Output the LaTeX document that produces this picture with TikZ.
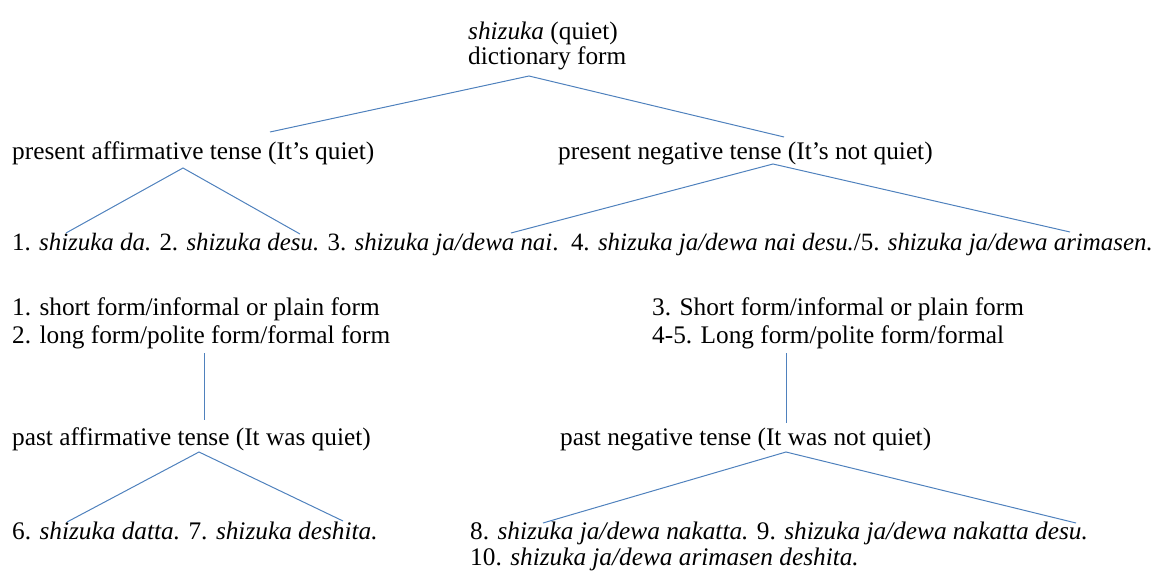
\documentclass[tikz,border=0pt]{standalone}
\usepackage{fontspec}
\setmainfont{Liberation Serif}
\definecolor{linkblue}{RGB}{79,129,189}
\begin{document}
\begin{tikzpicture}[x=1pt,y=-1pt,
  lbl/.style={anchor=base west, inner sep=0pt, font=\fontsize{25.3}{26}\selectfont},
  rowlbl/.style={lbl, font=\fontsize{24.9}{26}\selectfont},
  conn/.style={draw=linkblue, line width=1pt}]
\useasboundingbox (0,0) rectangle (1160,575);
% text
\node[lbl] (rootA) at (468,40) {\textit{shizuka} (quiet)};
\node[lbl] (rootB) at (468,65) {dictionary form};
\node[lbl] (presA) at (12,160) {present affirmative tense (It’s quiet)};
\node[lbl] (presN) at (558,160) {present negative tense (It’s not quiet)};
\node[rowlbl] (forms) at (12,251) {1. \textit{shizuka da.} 2. \textit{shizuka desu.} 3. \textit{shizuka ja/dewa nai}.\ \ 4. \textit{shizuka ja/dewa nai desu.}/5. \textit{shizuka ja/dewa arimasen.}};
\node[lbl] (noteA1) at (12,315) {1. short form/informal or plain form};
\node[lbl] (noteA2) at (12,343) {2. long form/polite form/formal form};
\node[lbl] (noteN1) at (652,315) {3. Short form/informal or plain form};
\node[lbl] (noteN2) at (652,343) {4-5. Long form/polite form/formal};
\node[lbl] (pastA) at (12,445) {past affirmative tense (It was quiet)};
\node[lbl] (pastN) at (560,445) {past negative tense (It was not quiet)};
\node[lbl] (pastAf) at (12,539) {6. \textit{shizuka datta.} 7. \textit{shizuka deshita.}};
\node[lbl] (pastNf1) at (470,539) {8. \textit{shizuka ja/dewa nakatta.} 9. \textit{shizuka ja/dewa nakatta desu.}};
\node[lbl] (pastNf2) at (470,565) {10. \textit{shizuka ja/dewa arimasen deshita.}};
% connector points
\coordinate (r0) at (529,76);
\coordinate (r1) at (270,132);
\coordinate (r2) at (784,137);
\coordinate (a0) at (183,168);
\coordinate (a1) at (66,233);
\coordinate (a2) at (300,234);
\coordinate (n0) at (773,164);
\coordinate (n1) at (511,233);
\coordinate (n2) at (1070,232);
\coordinate (va0) at (204,353);
\coordinate (va1) at (204,420);
\coordinate (vn0) at (786,353);
\coordinate (vn1) at (786,423);
\coordinate (p0) at (199,452);
\coordinate (p1) at (67,522);
\coordinate (p2) at (343,521);
\coordinate (q0) at (786,452);
\coordinate (q1) at (543,523);
\coordinate (q2) at (1076,523);
% connectors
\draw[conn] (r1) -- (r0) -- (r2);
\draw[conn] (a1) -- (a0) -- (a2);
\draw[conn] (n1) -- (n0) -- (n2);
\draw[conn] (va0) -- (va1);
\draw[conn] (vn0) -- (vn1);
\draw[conn] (p1) -- (p0) -- (p2);
\draw[conn] (q1) -- (q0) -- (q2);
\end{tikzpicture}
\end{document}
